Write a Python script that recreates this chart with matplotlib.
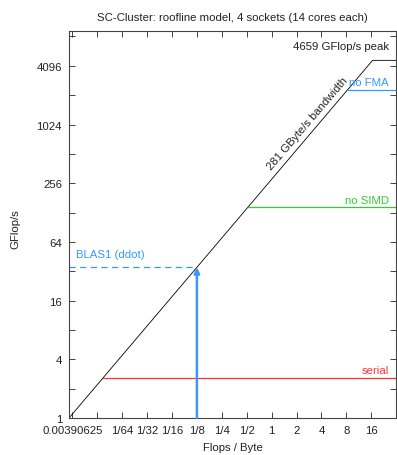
import matplotlib
matplotlib.use("Agg")
import matplotlib.pyplot as plt
import matplotlib.transforms as mtransforms
import numpy as np

plt.rcParams['font.family'] = ['Liberation Sans', 'DejaVu Sans']

# data
bandwidth = 281.0          # GByte/s
peak = 4659.0              # GFlop/s
ceilings = ["no FMA", "no SIMD", "serial"]
ceiling_vals = [2329.5, 145.6, 2.6]
ceiling_colors = ["#3399ff", "#33cc33", "#ff3333"]
blas1_intensity = 0.125
xtick_vals = [2.0**k for k in range(-8, 5)]
xtick_labels = ["0.00390625", "", "1/64", "1/32", "1/16", "1/8", "1/4", "1/2", "1", "2", "4", "8", "16"]
ytick_vals = [1, 4, 16, 64, 256, 1024, 4096]

xmin, xmax = 1.0 / bandwidth, 32.0
ymin, ymax = 1.0, 2 * peak
FS = 8.2
TXT = '#222222'

fig = plt.figure(figsize=(3.97, 4.56), dpi=100)
ax = fig.add_axes([69/397, 1 - 419/456, 1 - 69/397 - 0.002, (419 - 32)/456])
ax.set_xscale('log', base=2)
ax.set_yscale('log', base=2)
ax.set_xlim(xmin, xmax)
ax.set_ylim(ymin, ymax)

# roofline
x_knee = peak / bandwidth
ax.plot([xmin, x_knee, xmax], [bandwidth * xmin, peak, peak], color='black', lw=0.6)

for name, val, col in zip(ceilings, ceiling_vals, ceiling_colors):
    xs = val / bandwidth
    ax.plot([xs, xmax], [val, val], color=col, lw=0.9)
    ax.text(2**4.7, val * 1.06, name, color=col, ha='right', va='bottom', fontsize=FS)

ax.text(2**4.7, peak * 1.24, "4659 GFlop/s peak", color=TXT, ha='right', va='bottom', fontsize=FS)

# BLAS1
yb = bandwidth * blas1_intensity
ax.plot([xmin, blas1_intensity], [yb, yb], color='#3399ff', lw=0.9, dashes=(5, 3.5))
ax.annotate("", xy=(blas1_intensity, yb), xytext=(blas1_intensity, ymin),
            arrowprops=dict(arrowstyle='-|>', color='#3399ff', lw=1.8, mutation_scale=8,
                            shrinkA=0, shrinkB=0))
ax.text(2**-7.85, yb * 1.22, "BLAS1 (ddot)", color='#3399ff', ha='left', va='bottom', fontsize=FS)

# bandwidth label along the diagonal
xl = 2**1.72
ang = np.deg2rad(49.5)
off = mtransforms.ScaledTranslation(-np.sin(ang) * 3 / 72, np.cos(ang) * 3 / 72, fig.dpi_scale_trans)
ax.text(xl, bandwidth * xl, "281 GByte/s bandwidth", color=TXT, rotation=49.5,
        rotation_mode='anchor', ha='center', va='bottom', fontsize=FS,
        transform=ax.transData + off)

ax.set_xticks(xtick_vals)
ax.set_xticklabels(xtick_labels)
ax.set_xticks([], minor=True)
ax.set_yticks(ytick_vals)
ax.set_yticklabels([str(v) for v in ytick_vals])
ax.set_yticks([2.0**k for k in range(1, 14, 2)], minor=True)
ax.yaxis.set_minor_formatter(matplotlib.ticker.NullFormatter())
ax.tick_params(which='both', direction='in', top=True, right=True, length=4, width=0.6,
               labelsize=FS, colors=TXT, pad=5)
for s in ax.spines.values():
    s.set_linewidth(0.8)
    s.set_color('#444444')

ax.set_title("SC-Cluster: roofline model, 4 sockets (14 cores each)", fontsize=FS, color=TXT, pad=8)
ax.set_xlabel("Flops / Byte", fontsize=FS, color=TXT, labelpad=5)
ax.set_ylabel("GFlop/s", fontsize=FS, color=TXT)
ax.yaxis.set_label_coords(-0.15, 0.49)

fig.savefig("out.png", dpi=100)
